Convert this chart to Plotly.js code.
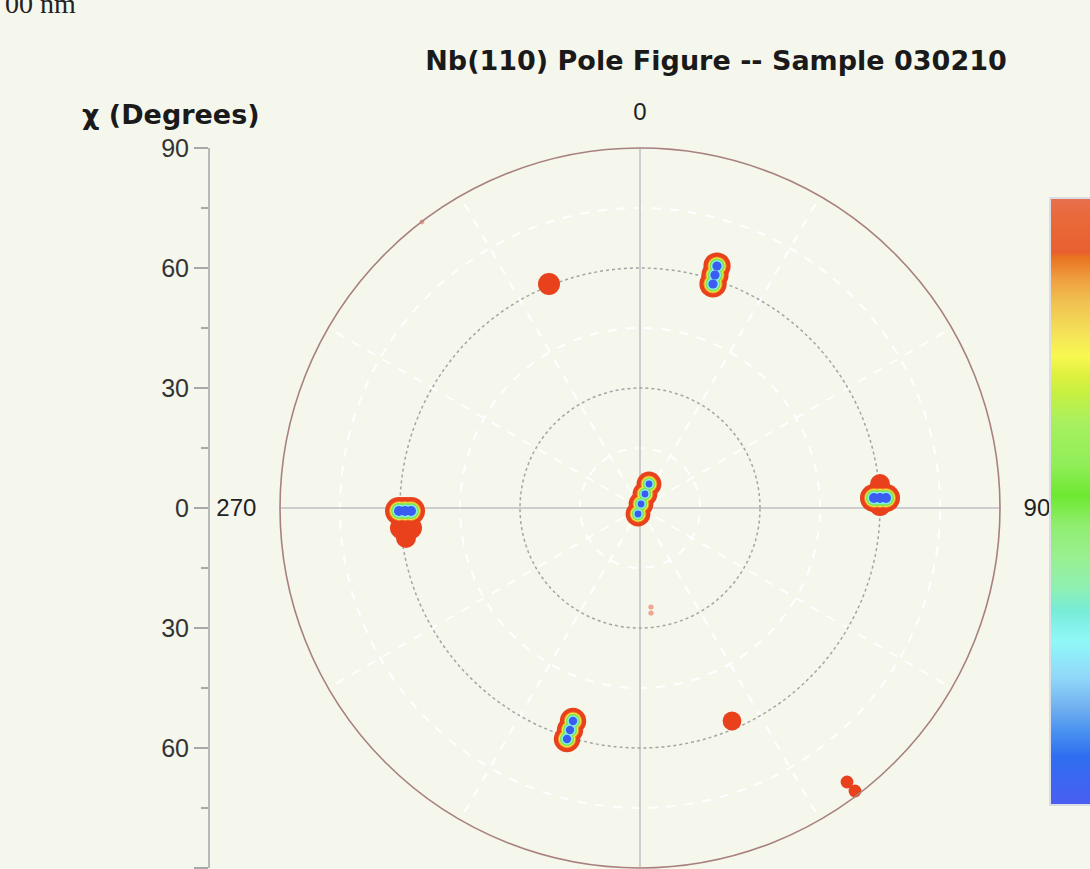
<!DOCTYPE html>
<html>
<head>
<meta charset="utf-8">
<script src="https://cdn.plot.ly/plotly-3.0.1.min.js"></script>
<style>html,body{margin:0;padding:0;background:#f5f7ed;}#chart{width:1090px;height:869px;}</style>
</head>
<body>
<div id="chart"></div>
<script>
// ---- data ----
const titleText = "Nb(110) Pole Figure -- Sample 030210";
const yAxisTitle = "χ (Degrees)";
const cornerText = "00 nm";
const angularTickVals = [0, 90, 180, 270];
const angularTickText = ["0", "90", "", "270"];
const angularMinorVals = [30, 60, 120, 150, 210, 240, 300, 330];
const radialMajorVals = [30, 60];
const radialMinorVals = [15, 45, 75];
const yTickVals = [-90, -60, -30, 0, 30, 60, 90];
const yTickText = ["90", "60", "30", "0", "30", "60", "90"];
const yMinorVals = [-75, -45, -15, 15, 45, 75];

// pole positions: tilt psi (deg), azimuth phi (deg), relative intensity
const spotPsi = [6.41, 3.72, 1.03, 1.58,
  63.49, 61.19, 58.90,
  58.55, 60.05, 61.55, 60.3, 60.0,
  60.25, 58.75, 57.25, 59.96, 57.47, 58.98,
  55.82, 58.19, 60.56,
  60.45, 58.0, 85.85, 88.85, 89.9, 24.9, 26.39];
const spotPhi = [20.56, 19.65, 14.04, 198.43,
  17.65, 17.84, 18.05,
  87.55, 87.61, 87.67, 84.29, 89.28,
  269.29, 269.27, 269.25, 265.22, 265.01, 262.69,
  197.46, 197.50, 197.54,
  337.89, 156.64, 142.93, 142.78, 322.68, 173.66, 174.02];
const spotIntensity = [0.62, 0.62, 0.62, 0.62,
  0.68, 0.68, 0.68,
  0.7, 0.7, 0.7, 0.5, 0.55,
  0.7, 0.7, 0.7, 0.55, 0.55, 0.5,
  0.66, 0.66, 0.66,
  0.55, 0.47, 0.32, 0.32, 0.12, 0.13, 0.13];

// ---- styling ----
const contourLayers = [
  {color: '#e8411c', d: 0},
  {color: '#ee8a2a', d: 8},
  {color: '#f2ee48', d: 10},
  {color: '#7ee24a', d: 12},
  {color: '#86eee8', d: 15},
  {color: '#3a5cf0', d: 18}
];
const rainbow = [
  [0.00, '#4a5ef2'], [0.08, '#2f6ef0'], [0.12, '#4890f0'], [0.16, '#70b0f0'],
  [0.21, '#90d8f8'], [0.27, '#90f8f8'], [0.32, '#78ecd8'], [0.36, '#90f0b0'],
  [0.41, '#98f090'], [0.46, '#90ee70'], [0.51, '#6ee830'], [0.56, '#90ee58'],
  [0.63, '#a8f060'], [0.68, '#c8f040'], [0.71, '#e0f040'], [0.74, '#f8f850'],
  [0.78, '#f4e058'], [0.83, '#f0c050'], [0.865, '#f0a040'], [0.905, '#e87020'],
  [0.91, '#e86030'], [0.97, '#e86a3a'], [1.00, '#e87050']
];

const traces = [];
traces.push({type: 'scatter', x: [], y: [], xaxis: 'x', yaxis: 'y', showlegend: false, hoverinfo: 'skip'});
traces.push({type: 'scatterpolar', subplot: 'polar', r: [], theta: [], mode: 'markers', showlegend: false, hoverinfo: 'skip'});

contourLayers.forEach((layer, k) => {
  const r = [], t = [], s = [], o = [];
  spotPsi.forEach((psi, i) => {
    const I = spotIntensity[i];
    if (k > 0 && I < 0.6) return;
    const size = 40 * I - layer.d;
    if (size <= 0) return;
    r.push(psi); t.push(spotPhi[i]); s.push(size); o.push(I < 0.2 ? 0.45 : 1);
  });
  traces.push({
    type: 'scatterpolar', subplot: 'polar2', mode: 'markers',
    r: r, theta: t, hoverinfo: 'skip', showlegend: false,
    marker: {color: layer.color, size: s, opacity: o, line: {width: 0}}
  });
});

// colour scale carrier
traces.push({
  type: 'scatterpolar', subplot: 'polar2', mode: 'markers',
  r: spotPsi, theta: spotPhi, hoverinfo: 'skip', showlegend: false,
  marker: {
    color: spotIntensity, cmin: 0, cmax: 1, colorscale: rainbow, opacity: 0, size: 1,
    showscale: true,
    colorbar: {
      x: 0.9545, xanchor: 'left', xpad: 0, ypad: 0,
      y: 0.509, yanchor: 'middle', lenmode: 'pixels', len: 607,
      thickness: 46, outlinewidth: 2, outlinecolor: '#dcdde4', borderwidth: 0,
      showticklabels: false, ticks: ''
    }
  }
});

const bg = '#f5f7ed';
const polarDomain = {x: [0.07955, 0.89773], y: [0, 1]};

const layout = {
  width: 1090, height: 869,
  paper_bgcolor: bg, plot_bgcolor: bg,
  margin: {l: 210, r: 0, t: 148, b: 1, autoexpand: false},
  showlegend: false,
  title: {
    text: titleText, x: 716 / 1090, xanchor: 'center', xref: 'container',
    y: 1 - 61 / 869, yanchor: 'middle', yref: 'container',
    font: {family: 'DejaVu Sans', size: 27, weight: 'bold', color: '#1a1a1a'}
  },
  xaxis: {domain: [0, 0.001], visible: false, range: [0, 1], fixedrange: true},
  yaxis: {
    range: [-90, 90], tickmode: 'array', tickvals: yTickVals, ticktext: yTickText,
    showline: true, linecolor: '#b8b8b8', linewidth: 2,
    ticks: 'outside', ticklen: 14, tickwidth: 2, tickcolor: '#a8a8a8',
    showgrid: false, zeroline: false,
    tickfont: {family: 'Liberation Sans', size: 25, color: '#333'},
    minor: {tickmode: 'array', tickvals: yMinorVals, ticks: 'outside', ticklen: 7, tickwidth: 2, tickcolor: '#a8a8a8', showgrid: false}
  },
  polar: {
    domain: polarDomain, bgcolor: bg,
    angularaxis: {
      rotation: 90, direction: 'clockwise', tickmode: 'array', tickvals: angularMinorVals,
      showticklabels: false, ticks: '', showline: false,
      showgrid: true, gridcolor: '#ffffff', gridwidth: 2, griddash: 'dash'
    },
    radialaxis: {
      range: [0, 90], tickmode: 'array', tickvals: radialMinorVals,
      showticklabels: false, ticks: '', showline: false,
      showgrid: true, gridcolor: '#ffffff', gridwidth: 2, griddash: 'dash'
    }
  },
  polar2: {
    domain: polarDomain, bgcolor: 'rgba(0,0,0,0)',
    angularaxis: {
      rotation: 90, direction: 'clockwise', tickmode: 'array',
      tickvals: angularTickVals, ticktext: angularTickText,
      ticks: 'outside', ticklen: 18, tickcolor: 'rgba(0,0,0,0)',
      tickfont: {family: 'Liberation Sans', size: 24, color: '#222'},
      showline: true, linecolor: '#a88080', linewidth: 1.6,
      showgrid: true, gridcolor: '#cdcdcd', gridwidth: 2
    },
    radialaxis: {
      range: [0, 90], tickmode: 'array', tickvals: radialMajorVals,
      showticklabels: false, ticks: '', showline: false,
      showgrid: true, gridcolor: '#a4a4a4', gridwidth: 1.5, griddash: 'dot'
    }
  },
  annotations: [
    {
      text: yAxisTitle, xref: 'paper', yref: 'paper', x: (262 - 210) / 880, y: (868 - 115) / 720,
      xanchor: 'right', yanchor: 'middle', showarrow: false,
      font: {family: 'DejaVu Sans', size: 27, weight: 'bold', color: '#1a1a1a'}
    },
    {
      text: cornerText, xref: 'paper', yref: 'paper', x: (3 - 210) / 880, y: (868 - 21) / 720,
      xanchor: 'left', yanchor: 'bottom', showarrow: false,
      font: {family: 'Liberation Serif', size: 28, color: '#222'}
    }
  ]
};

Plotly.newPlot('chart', traces, layout, {displayModeBar: false, staticPlot: true});
</script>
</body>
</html>
